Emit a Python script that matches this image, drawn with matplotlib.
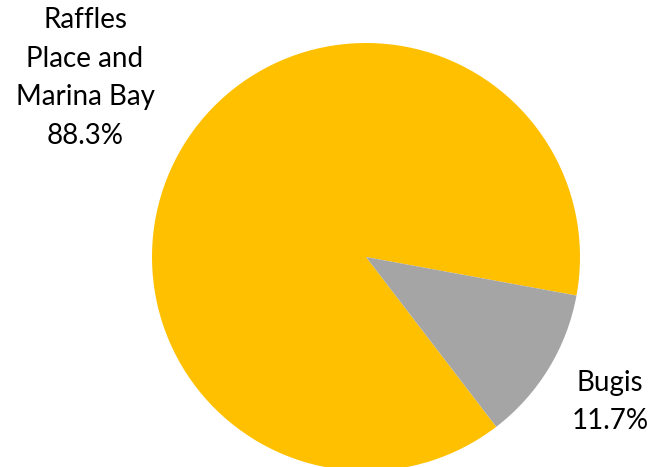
import matplotlib
matplotlib.use("Agg")
import matplotlib.pyplot as plt

# data
labels = ["Raffles\nPlace and\nMarina Bay", "Bugis"]
shares = [88.3, 11.7]
colors = ["#FFC000", "#A5A5A5"]

plt.rcParams['font.family'] = ['Lato', 'DejaVu Sans']

fig = plt.figure(figsize=(6.51, 4.67), dpi=100)
ax = fig.add_axes([0, 0, 1, 1])

# pixel-like data coords, pie centre at (366, 257) from top-left
r = 214
ax.pie(shares, colors=colors, radius=r, center=(0, 0),
       startangle=-52.5, counterclock=False, frame=True,
       wedgeprops=dict(linewidth=0))
ax.set_xlim(-366, 651 - 366)
ax.set_ylim(-(467 - 257), 257)
ax.set_aspect('equal')
ax.axis('off')

label_pos = [(-281, 179), (244, -145)]
for lab, val, (x, y) in zip(labels, shares, label_pos):
    ax.text(x, y, f"{lab}\n{val:.1f}%", ha='center', va='center',
            fontsize=20, linespacing=1.6, color='black')

fig.savefig("out.png", dpi=100)
